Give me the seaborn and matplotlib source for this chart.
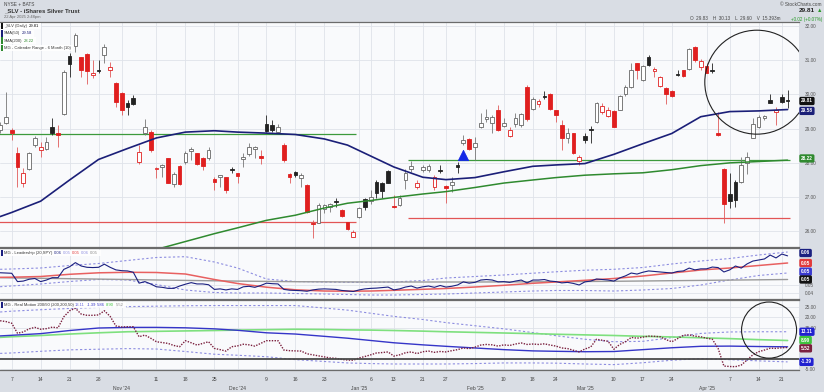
import numpy as np
import pandas as pd
import matplotlib
matplotlib.use("Agg")
import matplotlib.pyplot as plt
from matplotlib.patches import Ellipse, Rectangle
from matplotlib.ticker import FormatStrFormatter
import seaborn as sns

# trading calendar (NYSE)
holidays = ["2024-11-28", "2024-12-25", "2025-01-01", "2025-01-09",
            "2025-01-20", "2025-02-17", "2025-04-18"]
days = pd.bdate_range("2024-10-03", "2025-04-22")
days = days[~days.isin(pd.to_datetime(holidays))]

# SLV daily candles
opens = [28.96, 29.17, 28.96, 28.30, 27.42, 27.81, 28.52, 28.37, 28.42, 29.06,
         28.85, 29.43, 31.12, 31.42, 31.10, 31.18, 30.57, 30.73, 31.15, 30.73,
         30.34, 30.05, 29.76, 29.91, 28.03, 28.86, 28.91, 27.83, 27.89, 28.13,
         27.38, 27.91, 28.03, 28.35, 28.28, 28.13, 28.13, 27.53, 27.59, 27.58,
         27.80, 27.69, 28.12, 28.26, 28.42, 28.20, 29.15, 29.11, 28.91, 28.52,
         27.67, 27.74, 27.55, 27.35, 26.25, 26.25, 26.66, 26.72, 26.89, 26.62,
         26.28, 25.84, 26.41, 26.93, 26.89, 27.45, 27.42, 27.77, 26.74, 26.77,
         27.50, 27.81, 27.30, 27.79, 27.79, 27.30, 27.80, 27.32, 27.35, 27.93,
         28.57, 28.69, 28.47, 29.06, 29.27, 29.18, 29.54, 29.08, 28.78, 29.15,
         29.10, 30.23, 29.59, 29.72, 29.97, 30.01, 29.54, 29.11, 28.72, 28.86,
         28.06, 28.78, 29.00, 29.20, 29.49, 29.37, 29.52, 29.56, 30.01, 30.21,
         30.91, 30.42, 31.10, 30.69, 30.25, 30.18, 30.11, 30.61, 30.71, 30.76,
         31.38, 30.79, 30.83, 30.73, 28.87, 27.81, 27.08, 27.45, 27.45, 28.00,
         28.72, 29.06, 29.30, 29.84, 29.50, 29.93, 29.83]
highs = [29.20, 30.08, 29.01, 28.47, 27.84, 28.33, 28.78, 28.62, 28.76, 29.30,
         29.11, 30.71, 31.20, 31.79, 31.10, 31.20, 31.01, 31.01, 31.49, 30.96,
         30.37, 30.08, 29.84, 29.98, 28.52, 29.27, 28.96, 27.89, 27.96, 28.13,
         27.74, 27.93, 28.35, 28.45, 28.30, 28.18, 28.45, 27.60, 27.64, 27.60,
         27.89, 27.71, 28.28, 28.59, 28.49, 28.39, 29.40, 29.25, 29.15, 28.57,
         27.69, 27.77, 27.69, 27.38, 26.33, 26.82, 26.80, 26.82, 26.96, 26.64,
         26.28, 26.05, 26.72, 26.96, 27.20, 27.50, 27.45, 27.79, 27.06, 27.06,
         27.81, 28.06, 27.50, 27.93, 27.98, 27.64, 27.93, 27.35, 27.59, 28.03,
         28.81, 28.74, 28.76, 29.45, 29.59, 29.40, 29.69, 29.30, 29.06, 29.45,
         29.47, 30.27, 29.93, 29.88, 30.11, 30.03, 29.56, 29.25, 29.01, 28.88,
         28.23, 28.86, 29.08, 29.79, 29.74, 29.64, 29.56, 29.98, 30.27, 30.91,
         30.93, 30.86, 31.15, 30.81, 30.54, 30.21, 30.13, 30.73, 30.73, 31.35,
         31.42, 31.05, 30.91, 30.91, 29.49, 27.84, 27.69, 27.50, 28.18, 28.33,
         29.30, 29.40, 29.40, 30.01, 29.63, 30.02, 30.13]
lows = [28.86, 29.13, 28.67, 27.30, 27.30, 27.79, 28.47, 28.18, 28.37, 28.81,
        28.47, 29.40, 30.52, 31.25, 30.52, 30.32, 30.47, 30.62, 30.91, 30.52,
        29.64, 29.40, 29.40, 29.69, 27.98, 28.81, 28.33, 27.55, 27.60, 27.40,
        27.30, 27.35, 27.98, 28.08, 27.93, 27.79, 28.08, 27.20, 27.30, 27.11,
        27.69, 27.42, 27.87, 28.20, 28.13, 27.96, 28.91, 28.91, 28.86, 28.03,
        27.42, 27.59, 27.30, 26.54, 25.79, 26.23, 26.52, 26.57, 26.72, 26.42,
        26.04, 25.82, 26.38, 26.62, 26.81, 26.96, 26.96, 27.40, 26.67, 26.74,
        27.25, 27.74, 27.25, 27.74, 27.74, 27.22, 27.71, 26.82, 27.16, 27.71,
        28.52, 28.37, 28.08, 29.01, 29.20, 28.86, 28.94, 29.06, 28.76, 29.06,
        29.06, 29.23, 29.54, 29.64, 29.88, 29.54, 29.20, 28.39, 28.57, 28.26,
        27.93, 28.59, 28.57, 29.17, 29.43, 29.33, 29.04, 29.54, 29.97, 30.18,
        30.44, 30.40, 30.83, 30.52, 30.21, 29.72, 29.93, 30.55, 30.52, 30.71,
        30.96, 30.73, 30.62, 30.62, 28.80, 26.25, 26.67, 26.72, 27.40, 27.67,
        28.72, 29.01, 29.25, 29.74, 29.10, 29.74, 29.60]
closes = [29.11, 29.33, 28.86, 27.87, 27.69, 28.28, 28.72, 28.45, 28.62, 28.86,
          28.83, 30.67, 30.88, 31.74, 30.73, 30.69, 30.64, 30.70, 31.38, 30.81,
          29.79, 29.54, 29.62, 29.72, 28.33, 29.06, 28.37, 27.86, 27.93, 27.42,
          27.67, 27.38, 28.28, 28.42, 27.98, 27.91, 28.39, 27.45, 27.64, 27.22,
          27.78, 27.62, 28.16, 28.45, 28.47, 28.14, 28.94, 28.96, 29.04, 28.08,
          27.59, 27.64, 27.65, 26.57, 26.20, 26.77, 26.78, 26.80, 26.86, 26.44,
          26.06, 25.99, 26.67, 26.72, 27.01, 27.11, 27.19, 27.42, 26.70, 26.96,
          27.69, 27.91, 27.42, 27.89, 27.91, 27.59, 27.77, 27.28, 27.45, 27.89,
          28.67, 28.42, 28.59, 29.17, 29.33, 29.34, 28.96, 29.17, 28.96, 29.30,
          29.43, 29.27, 29.88, 29.82, 29.93, 29.59, 29.40, 28.74, 28.86, 28.30,
          28.18, 28.67, 28.96, 29.76, 29.66, 29.54, 29.06, 29.95, 30.21, 30.73,
          30.71, 30.83, 30.86, 30.75, 30.50, 30.01, 29.95, 30.57, 30.54, 31.32,
          31.01, 30.99, 30.64, 30.70, 28.82, 26.81, 26.89, 26.90, 27.93, 28.16,
          29.13, 29.33, 29.37, 29.76, 29.56, 29.79, 29.81]

# weekly reading points for the smooth overlays
week_dates = ["2024-10-03", "2024-10-07", "2024-10-14", "2024-10-21", "2024-10-28",
              "2024-11-04", "2024-11-11", "2024-11-18", "2024-11-25", "2024-12-02",
              "2024-12-09", "2024-12-16", "2024-12-23", "2024-12-30", "2025-01-06",
              "2025-01-13", "2025-01-21", "2025-01-27", "2025-02-03", "2025-02-10",
              "2025-02-18", "2025-02-24", "2025-03-03", "2025-03-10", "2025-03-17",
              "2025-03-24", "2025-03-31", "2025-04-07", "2025-04-14", "2025-04-22"]
sma50 = [26.43, 26.55, 26.88, 27.50, 28.10, 28.42, 28.73, 28.90, 28.94, 28.90,
         28.87, 28.83, 28.70, 28.52, 28.20, 27.88, 27.58, 27.51, 27.57, 27.74,
         27.90, 27.94, 27.98, 28.25, 28.56, 28.86, 29.35, 29.50, 29.52, 29.56]
sma200_dates = week_dates[6:]
sma200 = [25.47, 25.70, 25.93, 26.10, 26.32, 26.47, 26.68, 26.82, 26.90, 26.99,
          27.09, 27.16, 27.28, 27.41, 27.50, 27.57, 27.64, 27.68, 27.71, 27.80,
          27.92, 28.00, 28.04, 28.08]

# calendar ranges: start, end, high, low
range_start = ["2024-10-03", "2025-01-16"]
range_end = ["2024-12-31", "2025-04-22"]
range_high = [28.84, 28.08]
range_low = [26.26, 26.38]
signal_date = "2025-01-30"
signal_price = 28.22

# Leadership (SLV vs SPY)
lead = [0.0504, 0.0503, 0.0502, 0.0470, 0.0472, 0.0479, 0.0482, 0.0470, 0.0476, 0.0485,
        0.0485, 0.0517, 0.0527, 0.0543, 0.0530, 0.0525, 0.0524, 0.0525, 0.0537, 0.0525,
        0.0515, 0.0512, 0.0511, 0.0506, 0.0464, 0.0470, 0.0461, 0.0450, 0.0448, 0.0444,
        0.0444, 0.0453, 0.0460, 0.0466, 0.0461, 0.0461, 0.0458, 0.0440, 0.0442, 0.0438,
        0.0442, 0.0440, 0.0450, 0.0452, 0.0448, 0.0455, 0.0464, 0.0462, 0.0461, 0.0440,
        0.0437, 0.0436, 0.0435, 0.0433, 0.0438, 0.0441, 0.0442, 0.0441, 0.0440, 0.0436,
        0.0434, 0.0432, 0.0438, 0.0442, 0.0444, 0.0445, 0.0447, 0.0449, 0.0438, 0.0442,
        0.0449, 0.0453, 0.0445, 0.0450, 0.0453, 0.0448, 0.0455, 0.0449, 0.0452, 0.0457,
        0.0469, 0.0464, 0.0467, 0.0476, 0.0478, 0.0476, 0.0469, 0.0470, 0.0467, 0.0472,
        0.0476, 0.0465, 0.0476, 0.0476, 0.0478, 0.0472, 0.0470, 0.0465, 0.0467, 0.0463,
        0.0457, 0.0469, 0.0472, 0.0480, 0.0478, 0.0476, 0.0472, 0.0484, 0.0492, 0.0503,
        0.0499, 0.0506, 0.0511, 0.0509, 0.0507, 0.0505, 0.0503, 0.0509, 0.0511, 0.0522,
        0.0515, 0.0519, 0.0519, 0.0526, 0.0524, 0.0507, 0.0515, 0.0530, 0.0522, 0.0538,
        0.0549, 0.0553, 0.0557, 0.0572, 0.0561, 0.0576, 0.0569]
lead_ma = [0.04865, 0.04869, 0.04896, 0.04981, 0.05038, 0.05058, 0.05050, 0.04992, 0.04781, 0.04627,
           0.04485, 0.04385, 0.04338, 0.04331, 0.04338, 0.04365, 0.04404, 0.04435, 0.04492, 0.04558,
           0.04635, 0.04685, 0.04750, 0.04819, 0.04915, 0.05031, 0.05146, 0.05223, 0.05319, 0.05415]
lead_base = [0.04850, 0.04842, 0.04827, 0.04812, 0.04796, 0.04781, 0.04762, 0.04746, 0.04731, 0.04719,
             0.04708, 0.04696, 0.04692, 0.04688, 0.04685, 0.04685, 0.04685, 0.04685, 0.04685, 0.04688,
             0.04692, 0.04696, 0.04704, 0.04712, 0.04723, 0.04735, 0.04746, 0.04758, 0.04769, 0.04781]
lead_upper = [0.05173, 0.05185, 0.05223, 0.05319, 0.05396, 0.05512, 0.05627, 0.05658, 0.05454, 0.05223,
              0.04800, 0.04704, 0.04685, 0.04673, 0.04673, 0.04685, 0.04742, 0.04838, 0.04896, 0.04954,
              0.05023, 0.05077, 0.05138, 0.05173, 0.05242, 0.05377, 0.05492, 0.05588, 0.05723, 0.05838]
lead_lower = [0.04504, 0.04531, 0.04608, 0.04704, 0.04781, 0.04762, 0.04588, 0.04377, 0.04281, 0.04262,
              0.04262, 0.04242, 0.04223, 0.04204, 0.04185, 0.04185, 0.04204, 0.04223, 0.04262, 0.04300,
              0.04338, 0.04358, 0.04358, 0.04338, 0.04377, 0.04435, 0.04569, 0.04762, 0.04935, 0.05031]

# Real Motion 200/50
motion = [18.4, 18.0, 17.2, 12.4, 13.0, 14.5, 15.2, 14.3, 14.6, 15.3,
          15.0, 20.3, 23.2, 24.4, 21.6, 21.0, 21.0, 21.2, 23.2, 20.5,
          15.9, 15.4, 15.5, 15.5, 10.7, 11.5, 10.0, 8.3, 7.9, 7.5,
          6.5, 5.9, 8.8, 7.8, 6.7, 7.5, 8.3, 5.1, 4.5, 3.8,
          5.9, 6.3, 7.1, 6.8, 6.2, 7.5, 8.8, 8.8, 8.8, 4.3,
          4.0, 3.9, 3.8, 2.5, 2.0, 1.5, 1.0, 0.5, 0.3, -0.2,
          -0.5, -0.6, 0.5, 1.2, 2.0, 2.9, 3.1, 3.4, 1.4, 2.0,
          3.0, 3.4, 2.6, 3.5, 3.8, 3.2, 3.6, 3.4, 4.0, 4.5,
          5.3, 5.0, 5.7, 6.7, 7.0, 6.8, 6.2, 6.8, 6.5, 7.2,
          7.7, 7.0, 7.2, 7.0, 7.3, 6.7, 6.2, 5.3, 5.0, 4.2,
          3.4, 4.8, 5.8, 9.5, 9.0, 8.5, 4.7, 7.0, 8.3, 10.4,
          10.0, 10.5, 11.0, 10.9, 10.7, 9.3, 8.3, 9.8, 11.4, 11.6,
          11.0, 10.7, 10.0, 9.5, 5.1, -3.4, -3.6, -3.7, -2.9, -0.5,
          2.0, 3.5, 4.3, 5.2, 5.1, 5.4, 5.52]
motion_200 = [11.1, 11.4, 12.2, 13.7, 14.9, 15.2, 15.2, 15.0, 14.5, 13.8,
              12.6, 12.0, 10.9, 10.0, 8.9, 7.8, 6.8, 6.1, 5.3, 4.5,
              3.9, 3.7, 3.5, 3.6, 4.5, 5.4, 6.1, 6.2, 6.0, 5.86]
motion_50 = [10.4, 10.7, 11.3, 12.0, 12.6, 13.1, 13.3, 13.5, 13.7, 13.9,
             14.1, 14.3, 14.2, 14.0, 13.9, 13.7, 13.4, 13.1, 12.8, 12.5,
             12.2, 11.9, 11.6, 11.3, 10.9, 10.6, 10.2, 9.8, 9.3, 8.90]
motion_upper = [22.6, 23.0, 23.7, 24.3, 24.8, 25.2, 25.4, 25.6, 25.7, 25.7,
                25.7, 25.7, 24.5, 23.5, 22.0, 20.5, 19.0, 17.5, 16.0, 14.5,
                12.7, 11.2, 9.5, 8.3, 8.5, 10.3, 12.3, 13.0, 13.1, 13.11]
motion_lower = [2.7, 2.9, 3.7, 4.4, 4.7, 5.0, 4.8, 3.6, 2.3, 1.8,
                1.1, -0.3, -1.2, -1.9, -2.2, -2.4, -2.4, -2.4, -2.2, -1.9,
                -1.9, -2.0, -2.4, -2.7, -1.8, -0.6, 0.2, -0.3, -0.9, -1.39]

# x axis labels
tick_dates = ["2024-10-07", "2024-10-14", "2024-10-21", "2024-10-28", "2024-11-01",
              "2024-11-11", "2024-11-18", "2024-11-25", "2024-12-02", "2024-12-09",
              "2024-12-16", "2024-12-23", "2025-01-02", "2025-01-06", "2025-01-13",
              "2025-01-21", "2025-01-27", "2025-02-03", "2025-02-10", "2025-02-18",
              "2025-02-24", "2025-03-03", "2025-03-10", "2025-03-17", "2025-03-24",
              "2025-04-01", "2025-04-07", "2025-04-14", "2025-04-21"]
tick_days = ["7", "14", "21", "28", "", "11", "18", "25", "", "9", "16", "23", "",
             "6", "13", "21", "27", "", "10", "18", "24", "", "10", "17", "24", "",
             "7", "14", "21"]
month_labels = {"2024-11-01": "Nov '24", "2024-12-02": "Dec '24", "2025-01-02": "Jan '25",
                "2025-02-03": "Feb '25", "2025-03-03": "Mar '25", "2025-04-01": "Apr '25"}

pos = {d.strftime("%Y-%m-%d"): i for i, d in enumerate(days)}
def ix(dates):
    return [pos[d] for d in dates]

# ---------------------------------------------------------------- figure
sns.set_theme(style="white")
plt.rcParams["font.family"] = ["Liberation Sans", "DejaVu Sans"]

W, H = 824, 392
fig = plt.figure(figsize=(W / 100, H / 100), dpi=100, facecolor="#d9dde4")

def box(l, t, r, b):
    return [l / W, 1 - b / H, (r - l) / W, (b - t) / H]

ax = fig.add_axes(box(0, 22, 799, 247))
ax2 = fig.add_axes(box(0, 248, 799, 299), sharex=ax)
ax3 = fig.add_axes(box(0, 300, 799, 370), sharex=ax)
grid_c = "#dfe3ea"
for a in (ax, ax2, ax3):
    a.set_facecolor("#f9fafc")
    for s in ("left", "right"):
        a.spines[s].set_visible(False)
    for s in ("top", "bottom"):
        a.spines[s].set_color("#6b6b6b")
        a.spines[s].set_linewidth(0.9)
    a.grid(True, color=grid_c, lw=0.6)
    a.set_axisbelow(True)
    a.yaxis.tick_right()
    a.tick_params(axis="y", length=0, labelsize=3.4, labelcolor="#555555", pad=4)

n = len(days)
x = np.arange(n)
ax.set_xticks(ix(tick_dates))
ax3.set_xticklabels(tick_days)
ax.tick_params(axis="x", labelbottom=False, length=0)
ax2.tick_params(axis="x", labelbottom=False, length=0)
ax3.tick_params(axis="x", length=2.5, width=0.5, color="#8a8a8a", labelsize=3.6,
                labelcolor="#444444", pad=2.8)
for d, lab in month_labels.items():
    ax3.text(pos[d], -0.265, lab, transform=ax3.get_xaxis_transform(), ha="center",
             va="center", fontsize=3.6, color="#444444")

# ---------------------------------------------------------------- price panel
o = np.array(opens); h = np.array(highs); l = np.array(lows); c = np.array(closes)
prev = np.r_[o[0], c[:-1]]
red = c < prev
filled = c < o
line_col = np.where(red, "#e01f1f", "#222222")
wick_col = np.where(red, "#e05a5a", np.where(filled, "#222222", "#777777"))
face_col = np.where(filled, line_col, "#ffffff")
edge_col = np.where(red, "#e01f1f", np.where(filled, "#222222", "#666666"))
ax.vlines(x, l, h, colors=wick_col, lw=0.6, zorder=3)
body_lo = np.minimum(o, c)
body_h = np.maximum(np.abs(c - o), 0.03)
ax.bar(x, body_h, bottom=body_lo, width=0.64, color=face_col, edgecolor=edge_col,
       linewidth=0.6, zorder=4)

for s, e, hi, lo in zip(range_start, range_end, range_high, range_low):
    ax.hlines(hi, pos[s] - 0.5, pos[e] + 0.5, color="#3c9a3c", lw=0.9, zorder=2)
    ax.hlines(lo, pos[s] - 0.5, pos[e] + 0.5, color="#e25555", lw=0.9, zorder=2)

sns.lineplot(x=ix(week_dates), y=sma50, ax=ax, color="#1b1f78", lw=1.2, zorder=5)
sns.lineplot(x=ix(sma200_dates), y=sma200, ax=ax, color="#2f8a2f", lw=1.1, zorder=5)
sns.scatterplot(x=[pos[signal_date]], y=[signal_price], ax=ax, marker="^", s=55,
                color="#1428e6", edgecolor="#1428e6", zorder=6)
ax.set_ylim(25.54, 32.12)
ax.set_yticks(np.arange(26, 33, 1))
ax.yaxis.set_major_formatter(FormatStrFormatter("%.2f"))
ax.add_patch(Ellipse((130.7, 30.36), 18.0, 3.04, fill=False, ec="#222222", lw=0.8, zorder=8))

# ---------------------------------------------------------------- leadership panel
wx = ix(week_dates)
sns.lineplot(x=wx, y=lead_upper, ax=ax2, color="#8d8de0", lw=0.8, linestyle=(0, (2, 2)))
sns.lineplot(x=wx, y=lead_lower, ax=ax2, color="#8d8de0", lw=0.8, linestyle=(0, (2, 2)))
sns.lineplot(x=wx, y=lead_base, ax=ax2, color="#9a9a9a", lw=1.0)
sns.lineplot(x=wx, y=lead_ma, ax=ax2, color="#e86060", lw=1.1)
sns.lineplot(x=x, y=lead, ax=ax2, color="#1b2080", lw=0.8)
ax2.set_ylim(0.04031, 0.05992)
ax2.set_yticks([0.0425, 0.0457])
ax2.yaxis.set_major_formatter(FormatStrFormatter("%.2f"))

# ---------------------------------------------------------------- real motion panel
sns.lineplot(x=wx, y=motion_upper, ax=ax3, color="#8d8de0", lw=0.8, linestyle=(0, (2, 2)))
sns.lineplot(x=wx, y=motion_lower, ax=ax3, color="#8d8de0", lw=0.8, linestyle=(0, (2, 2)))
sns.lineplot(x=wx, y=motion_50, ax=ax3, color="#7ee07e", lw=1.2)
sns.lineplot(x=wx, y=motion_200, ax=ax3, color="#3535c8", lw=1.0)
sns.lineplot(x=x, y=motion, ax=ax3, color="#7a1f3d", lw=1.0, linestyle=(0, (1, 1)))
ax3.axhline(0, color="#4a4a4a", lw=1.3, zorder=2)
ax3.set_ylim(-5.29, 28.37)
ax3.set_yticks([-5, 15, 20, 25])
ax3.yaxis.set_major_formatter(FormatStrFormatter("%.2f"))
ax3.add_patch(Ellipse((132.8, 13.9), 9.5, 27.0, fill=False, ec="#222222", lw=0.8, zorder=8))
for a in (ax, ax2, ax3):
    a.set_xlim(-0.02, 137.97)
    a.set_xlabel("")
    a.set_ylabel("")

# ---------------------------------------------------------------- tags and labels
def tag(a, y, text, color):
    a.annotate(text, xy=(1, y), xycoords=("axes fraction", "data"), xytext=(1.4, 0),
               textcoords="offset points", ha="left", va="center", fontsize=3.4,
               color="white", weight="bold", annotation_clip=False, zorder=12,
               bbox=dict(boxstyle="round,pad=0.2", fc=color, ec=color))

tag(ax, closes[-1], "29.81", "#111111")
tag(ax, sma50[-1] - 0.04, "29.58", "#1b1f78")
tag(ax, 28.13, "28.22", "#2f8a2f")
tag(ax2, lead[-1] + 0.0011, "0.06", "#1b2080")
tag(ax2, lead_ma[-1], "0.05", "#e23a3a")
tag(ax2, lead_lower[-1] + 0.0005, "0.05", "#3a3ad0")
tag(ax2, lead_base[-1], "0.05", "#111111")
tag(ax3, motion_upper[-1], "13.11", "#2020d0")
tag(ax3, motion_50[-1] + 0.2, "8.90", "#3fc43f")
tag(ax3, motion[-1] - 0.4, "5.52", "#7a1f3d")
tag(ax3, motion_lower[-1], "-1.39", "#2020d0")

rend = fig.canvas.get_renderer()

def legend_row(xp, yp, parts, bar, size=3.0):
    cx = xp + 3
    for s, col in parts:
        t = fig.text(cx / W, 1 - yp / H, s, color=col, fontsize=size, va="center",
                     ha="left", zorder=20)
        cx += t.get_window_extent(rend).width + 1.3
    fig.add_artist(Rectangle((xp / W, 1 - (yp + 3.2) / H), (cx - xp + 1) / W, 6.4 / H,
                             transform=fig.transFigure, fc="white", ec="none",
                             alpha=0.9, zorder=15))
    fig.add_artist(Rectangle((xp / W, 1 - (yp + 3.2) / H), 1.6 / W, 6.4 / H,
                             transform=fig.transFigure, fc=bar, ec="none", zorder=16))

dark = "#333333"
legend_row(1, 26.0, [("_SLV (Daily)", dark), ("29.81", "#111111")], "#111111")
legend_row(1, 33.3, [("SMA(50)", dark), ("29.58", "#1b1f78")], "#1b1f78")
legend_row(1, 40.6, [("SMA(200)", dark), ("28.22", "#2f8a2f")], "#2f8a2f")
legend_row(1, 47.9, [("MG - Calendar Range - 6 Month (10)", dark)], "#2f8a2f")
legend_row(1, 252.8, [("MG - Leadership (20,SPY)", dark), ("0.06", "#1b2080"),
                      ("0.05", "#8d8de0"), ("0.05", "#e23a3a"), ("0.06", "#8d8de0"),
                      ("0.05", "#888888")], "#1b2080")
legend_row(1, 305.0, [("MG - Real Motion 200/50 (200,200,50)", dark), ("13.11", "#6a6ae0"),
                      ("-1.39", "#3535c8"), ("5.86", "#3535c8"), ("8.90", "#3fc43f"),
                      ("5.52", "#888888")], "#1b2080")

# header
fig.text(4 / W, 1 - 4.3 / H, "NYSE + BATS", fontsize=3.4, color="#444444", va="center")
fig.text(4 / W, 1 - 10.8 / H, "_SLV - iShares Silver Trust", fontsize=4.3, weight="bold",
         color="#333333", va="center")
fig.text(4 / W, 1 - 17.3 / H, "22 Apr 2025 2:48pm", fontsize=3.0, color="#666666", va="center")
fig.text(822 / W, 1 - 4.3 / H, "© StockCharts.com", fontsize=3.4, color="#444444",
         va="center", ha="right")
fig.text(822 / W, 1 - 10.8 / H, "▲", fontsize=4.0, color="#2a9a2a", va="center", ha="right")
fig.text(815 / W, 1 - 10.8 / H, "29.81", fontsize=4.6, weight="bold", color="#222222",
         va="center", ha="right")
fig.text(822 / W, 1 - 19 / H, "+0.02 (+0.07%)", fontsize=3.3, color="#2a9a2a",
         va="center", ha="right")
fig.text(781 / W, 1 - 19 / H, "O  29.83    H  30.13    L  29.60    V  15.393m", fontsize=3.3,
         color="#444444", va="center", ha="right")

fig.savefig("out.png", dpi=100, facecolor=fig.get_facecolor())
